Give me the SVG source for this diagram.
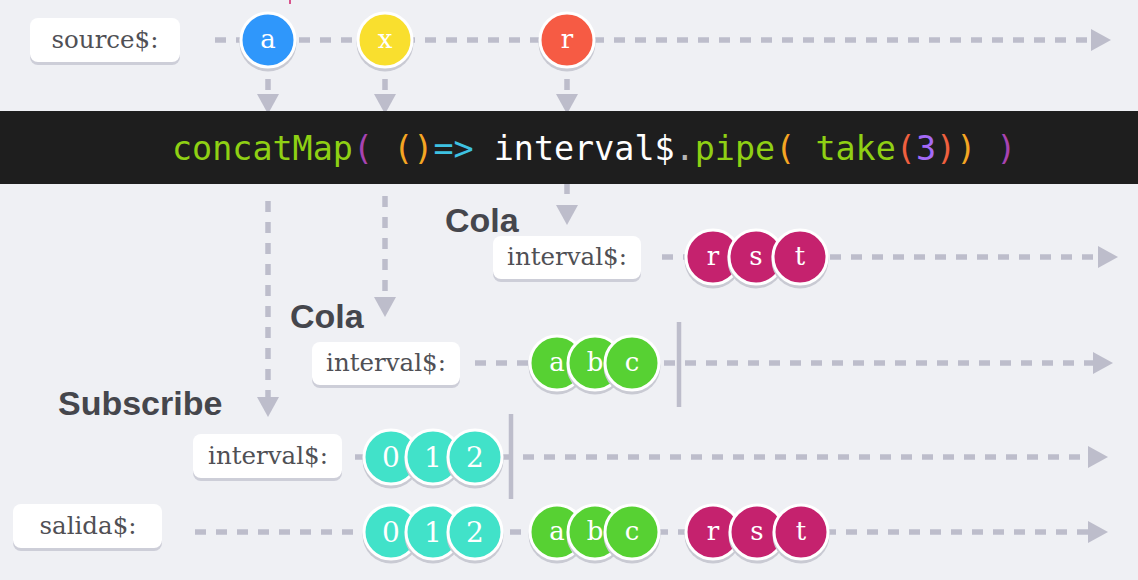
<svg xmlns="http://www.w3.org/2000/svg" width="1138" height="580" viewBox="0 0 1138 580">
<style>
.bg{fill:#eff0f4}
.box{fill:#ffffff}
.boxsh{fill:#cdced8}
.lt{font-family:"DejaVu Serif","Liberation Serif",serif;font-size:24.5px;fill:#505055;text-anchor:middle}
.ln{stroke:#bdbdcb;stroke-width:5.5;stroke-dasharray:11 10;fill:none}
.bar{stroke:#bdbdcb;stroke-width:4.5}
.sh{fill:#c9cad3}
.m{stroke:#ffffff;stroke-width:3}
.mt{font-family:"DejaVu Serif","Liberation Serif",serif;font-size:26px;fill:#ffffff;text-anchor:middle}
.dg{font-size:28px}
.h{font-family:"Liberation Sans",Arial,sans-serif;font-weight:bold;font-size:34px;fill:#45464c}
.code{font-family:"DejaVu Sans Mono","Liberation Mono",monospace;font-size:33.4px;white-space:pre}
.blue{fill:#2f97fb}.yel{fill:#f9df2e}.red{fill:#f65b44}.mag{fill:#c5226e}.grn{fill:#57d133}.tea{fill:#41e2c9}
</style>
<defs>
<marker id="ah" markerUnits="userSpaceOnUse" markerWidth="22" markerHeight="24" refX="0" refY="11" orient="auto" viewBox="0 0 22 24">
<path d="M0,0 L20,11 L0,22 Z" fill="#bdbdcb"/>
</marker>
</defs>
<rect class="bg" x="0" y="0" width="1138" height="580"/>
<line x1="290" y1="0" x2="290" y2="4" stroke="#d0206a" stroke-width="1.5"/>

<g id="connectors">
<line class="ln" x1="215" y1="40" x2="1091" y2="40" marker-end="url(#ah)"/>
<line class="ln" x1="268" y1="79" x2="268" y2="94" marker-end="url(#ah)"/>
<line class="ln" x1="385" y1="79" x2="385" y2="94" marker-end="url(#ah)"/>
<line class="ln" x1="567" y1="79" x2="567" y2="94" marker-end="url(#ah)"/>
<line class="ln" x1="268" y1="201" x2="268" y2="397" marker-end="url(#ah)"/>
<line class="ln" x1="385" y1="196" x2="385" y2="297" marker-end="url(#ah)"/>
<line class="ln" x1="567" y1="183" x2="567" y2="205" marker-end="url(#ah)" style="stroke-dasharray:11 11"/>
<line class="ln" x1="662" y1="257" x2="1098" y2="257" marker-end="url(#ah)"/>
<line class="ln" x1="475" y1="363" x2="1093" y2="363" marker-end="url(#ah)"/>
<line class="ln" x1="355" y1="457" x2="1088" y2="457" marker-end="url(#ah)"/>
<line class="ln" x1="195" y1="532" x2="1088" y2="532" marker-end="url(#ah)"/>
<line class="bar" x1="679" y1="322" x2="679" y2="407"/>
<line class="bar" x1="511" y1="414" x2="511" y2="499"/>
</g>

<g id="band">
<rect x="0" y="111" width="1138" height="73" fill="#1e1e1e"/>
<text class="code" x="172" y="160"><tspan fill="#8fd014">concatMap</tspan><tspan fill="#a843b1">(</tspan> <tspan fill="#f5a623">()</tspan><tspan fill="#3ec2e2">=&gt;</tspan> <tspan fill="#ffffff">interval$</tspan><tspan fill="#b5b5b5">.</tspan><tspan fill="#8fd014">pipe</tspan><tspan fill="#f5a623">(</tspan> <tspan fill="#8fd014">take</tspan><tspan fill="#f0603f">(</tspan><tspan fill="#a46af7">3</tspan><tspan fill="#f0603f">)</tspan><tspan fill="#f5a623">)</tspan> <tspan fill="#a843b1">)</tspan></text>
</g>

<g id="headings">
<text class="h" x="445" y="232">Cola</text>
<text class="h" x="290" y="328">Cola</text>
<text class="h" x="58" y="415">Subscribe</text>
</g>

<g id="label-source">
<rect class="boxsh" x="30" y="21" width="150" height="44" rx="8"/>
<rect class="box" x="30" y="18" width="150" height="44" rx="8"/>
<text class="lt" x="105" y="48">source$:</text>
</g>
<g id="label-interval-r">
<rect class="boxsh" x="493" y="239" width="148" height="43" rx="8"/>
<rect class="box" x="493" y="236" width="148" height="43" rx="8"/>
<text class="lt" x="567" y="265">interval$:</text>
</g>
<g id="label-interval-a">
<rect class="boxsh" x="312" y="345" width="148" height="43" rx="8"/>
<rect class="box" x="312" y="342" width="148" height="43" rx="8"/>
<text class="lt" x="386" y="371">interval$:</text>
</g>
<g id="label-interval-0">
<rect class="boxsh" x="193" y="437" width="149" height="44" rx="8"/>
<rect class="box" x="193" y="434" width="149" height="44" rx="8"/>
<text class="lt" x="268" y="464">interval$:</text>
</g>
<g id="label-salida">
<rect class="boxsh" x="13" y="507" width="149" height="44" rx="8"/>
<rect class="box" x="13" y="504" width="149" height="44" rx="8"/>
<text class="lt" x="88" y="534">salida$:</text>
</g>

<g id="source-marbles">
<circle class="sh" cx="268" cy="43" r="28.5"/><circle class="m blue" cx="268" cy="40" r="27"/><text class="mt" x="268" y="48">a</text>
<circle class="sh" cx="385" cy="43" r="28.5"/><circle class="m yel" cx="385" cy="40" r="27"/><text class="mt" x="385" y="48">x</text>
<circle class="sh" cx="567" cy="43" r="28.5"/><circle class="m red" cx="567" cy="40" r="27"/><text class="mt" x="567" y="48">r</text>
</g>

<g id="queue-rst">
<circle class="sh" cx="713" cy="260" r="28.5"/><circle class="m mag" cx="713" cy="257" r="27"/><text class="mt" x="713" y="265">r</text>
<circle class="sh" cx="756" cy="260" r="28.5"/><circle class="m mag" cx="756" cy="257" r="27"/><text class="mt" x="756" y="265">s</text>
<circle class="sh" cx="800" cy="260" r="28.5"/><circle class="m mag" cx="800" cy="257" r="27"/><text class="mt" x="800" y="265">t</text>
</g>

<g id="queue-abc">
<circle class="sh" cx="557" cy="366" r="28.5"/><circle class="m grn" cx="557" cy="363" r="27"/><text class="mt" x="557" y="371">a</text>
<circle class="sh" cx="595" cy="366" r="28.5"/><circle class="m grn" cx="595" cy="363" r="27"/><text class="mt" x="595" y="371">b</text>
<circle class="sh" cx="632" cy="366" r="28.5"/><circle class="m grn" cx="632" cy="363" r="27"/><text class="mt" x="632" y="371">c</text>
</g>

<g id="sub-012">
<circle class="sh" cx="391" cy="460" r="28.5"/><circle class="m tea" cx="391" cy="457" r="27"/><text class="mt dg" x="391" y="467">0</text>
<circle class="sh" cx="433" cy="460" r="28.5"/><circle class="m tea" cx="433" cy="457" r="27"/><text class="mt dg" x="433" y="467">1</text>
<circle class="sh" cx="475" cy="460" r="28.5"/><circle class="m tea" cx="475" cy="457" r="27"/><text class="mt dg" x="475" y="467">2</text>
</g>

<g id="salida-marbles">
<circle class="sh" cx="391" cy="535" r="28.5"/><circle class="m tea" cx="391" cy="532" r="27"/><text class="mt dg" x="391" y="542">0</text>
<circle class="sh" cx="433" cy="535" r="28.5"/><circle class="m tea" cx="433" cy="532" r="27"/><text class="mt dg" x="433" y="542">1</text>
<circle class="sh" cx="475" cy="535" r="28.5"/><circle class="m tea" cx="475" cy="532" r="27"/><text class="mt dg" x="475" y="542">2</text>
<circle class="sh" cx="557" cy="535" r="28.5"/><circle class="m grn" cx="557" cy="532" r="27"/><text class="mt" x="557" y="540">a</text>
<circle class="sh" cx="595" cy="535" r="28.5"/><circle class="m grn" cx="595" cy="532" r="27"/><text class="mt" x="595" y="540">b</text>
<circle class="sh" cx="632" cy="535" r="28.5"/><circle class="m grn" cx="632" cy="532" r="27"/><text class="mt" x="632" y="540">c</text>
<circle class="sh" cx="713" cy="535" r="28.5"/><circle class="m mag" cx="713" cy="532" r="27"/><text class="mt" x="713" y="540">r</text>
<circle class="sh" cx="757" cy="535" r="28.5"/><circle class="m mag" cx="757" cy="532" r="27"/><text class="mt" x="757" y="540">s</text>
<circle class="sh" cx="801" cy="535" r="28.5"/><circle class="m mag" cx="801" cy="532" r="27"/><text class="mt" x="801" y="540">t</text>
</g>
</svg>
